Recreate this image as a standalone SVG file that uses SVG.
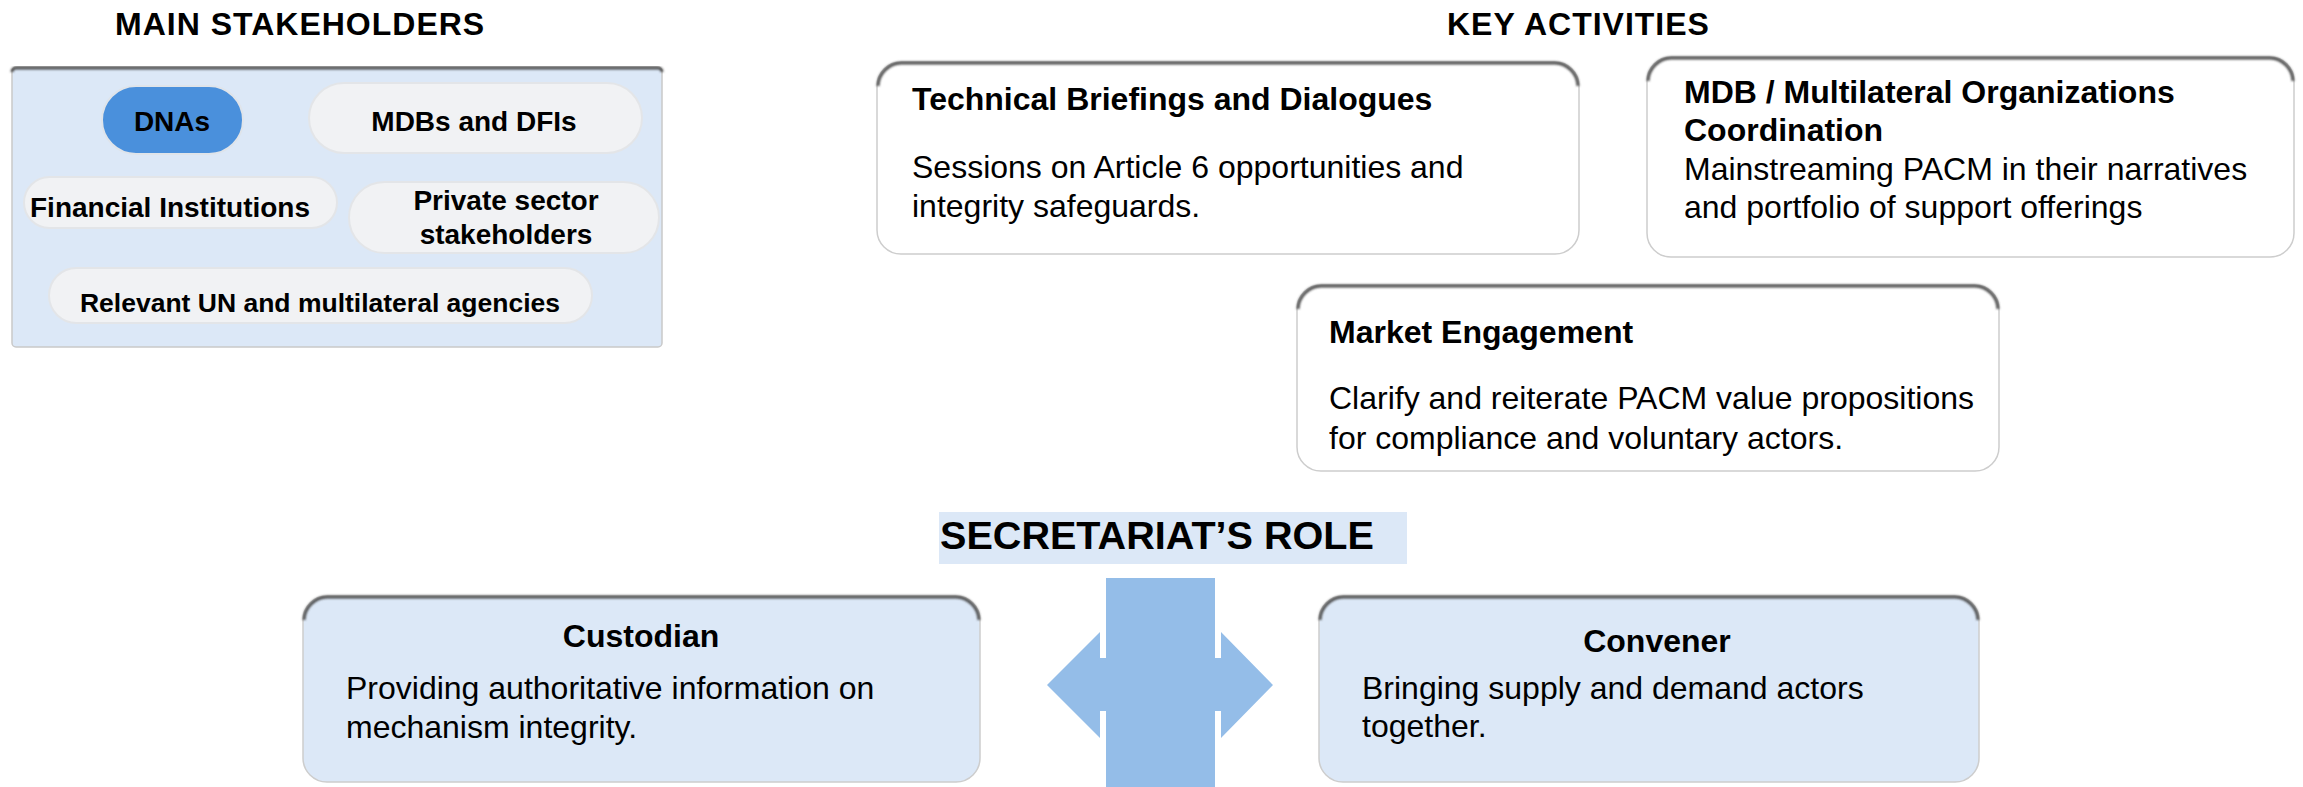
<svg xmlns="http://www.w3.org/2000/svg" width="2303" height="787" viewBox="0 0 2303 787">
<defs>
<filter id="soft" x="-5%" y="-50%" width="110%" height="200%"><feGaussianBlur stdDeviation="0.9"/></filter>
<style>
text{font-family:"Liberation Sans",Arial,sans-serif;fill:#000}
.hdr{font-size:32px;font-weight:bold;letter-spacing:1px}
.pill{fill:#f1f2f4;stroke:#e3e5e8;stroke-width:2}
.pt{font-size:28px;font-weight:bold}
.pts{font-size:26.5px;font-weight:bold}
.box{stroke:#cdcdcd;stroke-width:1.5}
.white{fill:#ffffff}
.blue{fill:#dce8f7}
.top{fill:none;stroke:#4d4d4d;stroke-width:3;filter:url(#soft)}
.bt{font-size:32px;font-weight:bold}
.bd{font-size:32px}
.arrow{fill:#94bde8}
</style>
</defs>
<rect width="2303" height="787" fill="#ffffff"/>

<text class="hdr" x="115" y="35">MAIN STAKEHOLDERS</text>
<text class="hdr" x="1447" y="35">KEY ACTIVITIES</text>

<g id="stakeholders">
<rect x="12" y="67" width="650" height="280" rx="4" class="blue" stroke="#c9c9c9" stroke-width="1.5"/>
<path class="top" d="M12,72 A4,4 0 0 1 16,68 H658 A4,4 0 0 1 662,72"/>
<g id="dnas"><rect x="102" y="86" width="141" height="68" rx="34" fill="#4a90dc" stroke="#dfe4ea" stroke-width="2"/><text class="pt" x="172" y="131" text-anchor="middle">DNAs</text></g>
<g id="mdbs"><rect class="pill" x="309" y="83" width="333" height="70" rx="35"/><text class="pt" x="474" y="131" text-anchor="middle">MDBs and DFIs</text></g>
<g id="financial"><rect class="pill" x="24" y="177" width="313" height="51" rx="25.5"/><text class="pt" x="30" y="217">Financial Institutions</text></g>
<g id="private"><rect class="pill" x="349" y="182" width="310" height="71" rx="35.5"/><text class="pt" x="506" y="210" text-anchor="middle">Private sector</text><text class="pt" x="506" y="244" text-anchor="middle">stakeholders</text></g>
<g id="relevant"><rect class="pill" x="49" y="268" width="543" height="55" rx="27.5"/><text class="pts" x="320" y="312" text-anchor="middle">Relevant UN and multilateral agencies</text></g>
</g>

<g id="technical">
<rect class="box white" x="877" y="62" width="702" height="192" rx="24"/>
<path class="top" d="M878,86 A24,24 0 0 1 901,63 H1555 A24,24 0 0 1 1578,86"/>
<text class="bt" x="912" y="110">Technical Briefings and Dialogues</text>
<text class="bd" x="912" y="178">Sessions on Article 6 opportunities and</text>
<text class="bd" x="912" y="217">integrity safeguards.</text>
</g>

<g id="mdb">
<rect class="box white" x="1647" y="57" width="647" height="200" rx="24"/>
<path class="top" d="M1648,81 A24,24 0 0 1 1671,58 H2270 A24,24 0 0 1 2293,81"/>
<text class="bt" x="1684" y="103">MDB / Multilateral Organizations</text>
<text class="bt" x="1684" y="141">Coordination</text>
<text class="bd" x="1684" y="180">Mainstreaming PACM in their narratives</text>
<text class="bd" x="1684" y="218">and portfolio of support offerings</text>
</g>

<g id="market">
<rect class="box white" x="1297" y="285" width="702" height="186" rx="24"/>
<path class="top" d="M1298,309 A24,24 0 0 1 1321,286 H1975 A24,24 0 0 1 1998,309"/>
<text class="bt" x="1329" y="343">Market Engagement</text>
<text class="bd" x="1329" y="409">Clarify and reiterate PACM value propositions</text>
<text class="bd" x="1329" y="449">for compliance and voluntary actors.</text>
</g>

<g id="secretariat">
<rect x="939" y="512" width="468" height="52" fill="#dce8f7"/>
<text x="940" y="549" style="font-size:39.6px;font-weight:bold">SECRETARIAT’S ROLE</text>
</g>

<g id="connectors">
<polygon class="arrow" points="1047,685 1100,632 1100,658 1221,658 1221,632 1273,685 1221,738 1221,711 1100,711 1100,738"/>
<rect class="arrow" x="1106" y="578" width="109" height="209"/>
</g>

<g id="custodian">
<rect class="box blue" x="303" y="596" width="677" height="186" rx="24"/>
<path class="top" d="M304,620 A24,24 0 0 1 327,597 H956 A24,24 0 0 1 979,620"/>
<text class="bt" x="641" y="647" text-anchor="middle">Custodian</text>
<text class="bd" x="346" y="699">Providing authoritative information on</text>
<text class="bd" x="346" y="738">mechanism integrity.</text>
</g>

<g id="convener">
<rect class="box blue" x="1319" y="596" width="660" height="186" rx="24"/>
<path class="top" d="M1320,620 A24,24 0 0 1 1343,597 H1955 A24,24 0 0 1 1978,620"/>
<text class="bt" x="1657" y="652" text-anchor="middle">Convener</text>
<text class="bd" x="1362" y="699">Bringing supply and demand actors</text>
<text class="bd" x="1362" y="737">together.</text>
</g>
</svg>
